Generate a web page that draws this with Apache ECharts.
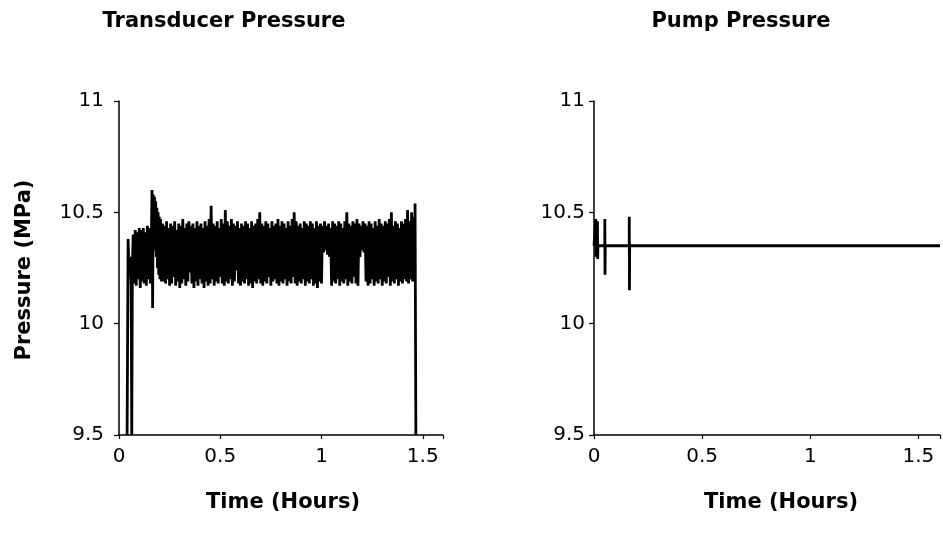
<!DOCTYPE html>
<html><head><meta charset="utf-8">
<script src="https://cdn.jsdelivr.net/npm/echarts@6/dist/echarts.min.js"></script>
<style>html,body{margin:0;padding:0;background:#fff}#c{width:943px;height:533px}</style>
</head><body><div id="c"></div>
<script>
// Transducer pressure (hours, MPa)
var transTimes = [
0.040,0.045,0.050,0.055,0.060,0.063,0.066,
0.070,0.075,0.080,0.085,0.090,0.095,0.100,0.105,0.110,0.115,
0.120,0.125,0.130,0.135,0.140,0.145,0.150,0.155,0.160,
0.163,0.166,0.169,0.172,0.175,0.178,0.181,0.184,0.187,0.190,0.193,0.196,0.199,0.202,0.205,0.210,
0.215,0.22,0.225,0.23,0.235,0.24,0.245,0.25,0.255,0.26,
0.265,0.27,0.275,0.28,0.285,0.29,0.295,0.3,0.305,0.31,
0.315,0.32,0.325,0.33,0.335,0.34,0.345,0.35,0.355,0.36,
0.365,0.37,0.375,0.38,0.385,0.39,0.395,0.4,0.405,0.41,
0.415,0.42,0.425,0.43,0.435,0.44,0.445,0.45,0.455,0.46,
0.465,0.47,0.475,0.48,0.485,0.49,0.495,0.5,0.505,0.51,
0.515,0.52,0.525,0.53,0.535,0.54,0.545,0.55,0.555,0.56,
0.565,0.57,0.575,0.58,0.585,0.59,0.595,0.6,0.605,0.61,
0.615,0.62,0.625,0.63,0.635,0.64,0.645,0.65,0.655,0.66,
0.665,0.67,0.675,0.68,0.685,0.69,0.695,0.7,0.705,0.71,
0.715,0.72,0.725,0.73,0.735,0.74,0.745,0.75,0.755,0.76,
0.765,0.77,0.775,0.78,0.785,0.79,0.795,0.8,0.805,0.81,
0.815,0.82,0.825,0.83,0.835,0.84,0.845,0.85,0.855,0.86,
0.865,0.87,0.875,0.88,0.885,0.89,0.895,0.9,0.905,0.91,
0.915,0.92,0.925,0.93,0.935,0.94,0.945,0.95,0.955,0.96,
0.965,0.97,0.975,0.98,0.985,0.99,0.995,1,1.005,1.01,
1.015,1.02,1.025,1.03,1.035,1.04,1.045,1.05,1.055,1.06,
1.065,1.07,1.075,1.08,1.085,1.09,1.095,1.1,1.105,1.11,
1.115,1.12,1.125,1.13,1.135,1.14,1.145,1.15,1.155,1.16,
1.165,1.17,1.175,1.18,1.185,1.19,1.195,1.2,1.205,1.21,
1.215,1.22,1.225,1.23,1.235,1.24,1.245,1.25,1.255,1.26,
1.265,1.27,1.275,1.28,1.285,1.29,1.295,1.3,1.305,1.31,
1.315,1.32,1.325,1.33,1.335,1.34,1.345,1.35,1.355,1.36,
1.365,1.37,1.375,1.38,1.385,1.39,1.395,1.4,1.405,1.41,
1.415,1.42,1.425,1.43,1.435,1.44,1.445,1.45,1.455,1.46,
1.462,1.466
];
var transValues = [
9.5,10.38,10.22,10.30,10.17,9.5,10.25,
10.40,10.18,10.42,10.17,10.41,10.20,10.43,10.16,10.42,10.19,
10.43,10.18,10.41,10.17,10.44,10.20,10.43,10.18,10.38,
10.60,10.07,10.58,10.34,10.57,10.33,10.55,10.30,10.52,10.25,10.50,10.22,10.48,10.20,10.47,10.19,
10.45,10.19,10.44,10.18,10.46,10.20,10.43,10.17,10.45,10.18,
10.44,10.21,10.46,10.17,10.42,10.19,10.45,10.16,10.44,10.18,
10.47,10.20,10.43,10.17,10.45,10.19,10.46,10.23,10.44,10.18,
10.45,10.16,10.43,10.19,10.46,10.17,10.44,10.20,10.45,10.18,
10.43,10.16,10.46,10.19,10.44,10.17,10.47,10.18,10.53,10.20,
10.45,10.17,10.44,10.19,10.46,10.18,10.43,10.21,10.47,10.18,
10.45,10.17,10.51,10.19,10.46,10.18,10.44,10.20,10.47,10.17,
10.45,10.19,10.44,10.24,10.46,10.18,10.43,10.17,10.45,10.19,
10.44,10.18,10.46,10.20,10.45,10.17,10.43,10.18,10.46,10.16,
10.44,10.19,10.45,10.18,10.47,10.20,10.50,10.18,10.45,10.17,
10.44,10.19,10.46,10.18,10.45,10.21,10.43,10.17,10.46,10.19,
10.44,10.20,10.45,10.18,10.47,10.17,10.44,10.19,10.46,10.18,
10.45,10.20,10.43,10.17,10.46,10.19,10.44,10.18,10.47,10.21,
10.50,10.18,10.46,10.17,10.44,10.19,10.45,10.18,10.43,10.20,
10.46,10.17,10.45,10.19,10.44,10.18,10.46,10.20,10.45,10.17,
10.43,10.18,10.46,10.16,10.44,10.19,10.45,10.18,10.44,10.32,
10.46,10.33,10.44,10.31,10.45,10.30,10.43,10.17,10.46,10.19,
10.45,10.18,10.44,10.20,10.46,10.17,10.45,10.19,10.43,10.18,
10.46,10.20,10.50,10.17,10.45,10.19,10.44,10.18,10.46,10.21,
10.45,10.18,10.47,10.17,10.45,10.30,10.44,10.33,10.46,10.32,
10.45,10.19,10.44,10.17,10.46,10.18,10.45,10.20,10.43,10.17,
10.46,10.19,10.44,10.18,10.47,10.20,10.45,10.17,10.44,10.19,
10.46,10.18,10.45,10.21,10.47,10.17,10.50,10.19,10.44,10.18,
10.46,10.20,10.45,10.17,10.43,10.19,10.46,10.18,10.45,10.20,
10.47,10.19,10.51,10.18,10.46,10.20,10.50,10.19,10.48,10.21,
10.54,9.5
];
// Pump pressure (hours, MPa)
var pumpTimes  = [0,0.008,0.008,0.009,0.016,0.017,0.018,0.050,0.050,0.051,0.052,0.163,0.163,0.164,0.165,1.6];
var pumpValues = [10.35,10.35,10.47,10.30,10.46,10.29,10.35,10.35,10.47,10.22,10.35,10.35,10.48,10.15,10.35,10.35];
var xTicks = [0,0.5,1,1.5];
var yTicks = [9.5,10,10.5,11];
var titles = ['Transducer Pressure','Pump Pressure'];
var xName = 'Time (Hours)';
var yName = 'Pressure (MPa)';

function pairs(t,v){var o=[];for(var i=0;i<t.length;i++)o.push([t[i],v[i]]);return o;}
var FONT='DejaVu Sans';
function xAxis(idx,margin){return {gridIndex:idx,type:'value',min:0,max:1.6,interval:0.5,
  axisLine:{show:true,lineStyle:{color:'#000',width:1.5}},
  axisTick:{show:true,length:4,lineStyle:{color:'#000',width:1.2}},
  axisLabel:{margin:margin,color:'#000',fontFamily:FONT,fontSize:20,
    formatter:function(v){return xTicks.indexOf(v)>=0?String(v):'';}},
  splitLine:{show:false}};}
function yAxis(idx,margin){return {gridIndex:idx,type:'value',min:9.5,max:11,interval:0.5,
  axisLine:{show:true,lineStyle:{color:'#000',width:1.5}},
  axisTick:{show:true,length:5,lineStyle:{color:'#000',width:1.2}},
  axisLabel:{margin:margin,color:'#000',fontFamily:FONT,fontSize:20,
    formatter:function(v){return yTicks.indexOf(v)>=0?String(v):'';}},
  splitLine:{show:false}};}
function txt(text,x,y,rot){return {type:'text',x:x,y:y,rotation:rot||0,
  style:{text:text,fill:'#000',font:'bold 21px "DejaVu Sans"',align:'center',verticalAlign:'middle',textAlign:'center',textVerticalAlign:'middle'}};}

var chart=echarts.init(document.getElementById('c'),null,{renderer:'canvas'});
chart.setOption({
  animation:false,
  backgroundColor:'#fff',
  grid:[{left:119,top:101,width:324,height:334},{left:594,top:101,width:356,height:334}],
  xAxis:[xAxis(0,12),xAxis(1,12)],
  yAxis:[yAxis(0,15),yAxis(1,9)],
  series:[
    {type:'line',xAxisIndex:0,yAxisIndex:0,data:pairs(transTimes,transValues),showSymbol:false,symbol:'none',
      lineStyle:{color:'#000',width:2.8},clip:true},
    {type:'line',xAxisIndex:1,yAxisIndex:1,data:pairs(pumpTimes,pumpValues),showSymbol:false,symbol:'none',
      lineStyle:{color:'#000',width:2.8},clip:true}
  ],
  graphic:[
    txt(titles[0],224,22),
    txt(titles[1],741,22),
    txt(xName,283,503),
    txt(xName,781,503),
    txt(yName,25,270,Math.PI/2)
  ]
});
</script></body></html>
